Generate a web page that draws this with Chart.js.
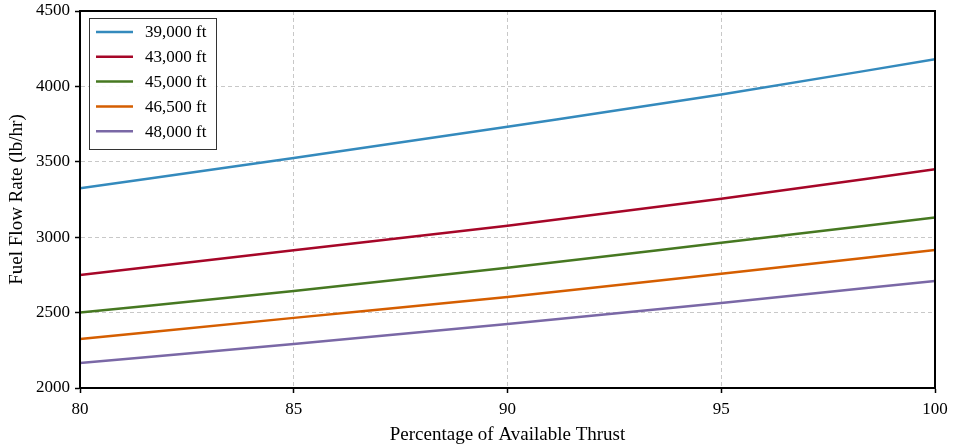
<!DOCTYPE html>
<html>
<head>
<meta charset="utf-8">
<script src="https://cdn.jsdelivr.net/npm/chart.js@4/dist/chart.umd.min.js"></script>
<style>
  html, body { margin: 0; padding: 0; background: #fff; }
  #wrap { width: 954px; height: 446px; }
</style>
</head>
<body>
<div id="wrap"><canvas id="grafica"></canvas></div>
<script>
// thrust percentage (x) and fuel flow (lb/hr) per altitude
let empuje = [80, 85, 90, 95, 100];
let alt39000 = [3325, 3525, 3733, 3946, 4180];
let alt43000 = [2750, 2914, 3076, 3255, 3450];
let alt45000 = [2500, 2644, 2797, 2963, 3130];
let alt46500 = [2325, 2465, 2604, 2757, 2915];
let alt48000 = [2165, 2292, 2425, 2564, 2710];
let etiquetas = ["39,000 ft", "43,000 ft", "45,000 ft", "46,500 ft", "48,000 ft"];
let colores = ["#348ABD", "#A60628", "#467821", "#D55E00", "#7A68A6"];

let series = [alt39000, alt43000, alt45000, alt46500, alt48000];
let fuente = "'Liberation Serif', 'DejaVu Serif', serif";

// black frame around the plot area
const marco = {
  id: "marco",
  afterDatasetsDraw(chart) {
    const a = chart.chartArea;
    const ctx = chart.ctx;
    ctx.save();
    ctx.strokeStyle = "#000";
    ctx.lineWidth = 2;
    ctx.strokeRect(a.left, a.top, a.right - a.left, a.bottom - a.top);
    ctx.restore();
  },
};

// legend box drawn inside the top-left corner
const leyenda = {
  id: "leyenda",
  afterDraw(chart) {
    const a = chart.chartArea;
    const ctx = chart.ctx;
    const x0 = a.left + 9, y0 = a.top + 7;
    const w = 127, fila = 24.8;
    const h = fila * chart.data.datasets.length + 7;
    ctx.save();
    ctx.fillStyle = "rgba(255,255,255,0.9)";
    ctx.fillRect(x0, y0, w, h);
    ctx.strokeStyle = "#333";
    ctx.lineWidth = 1;
    ctx.strokeRect(x0 + 0.5, y0 + 0.5, w, h);
    ctx.font = "17px " + fuente;
    ctx.textBaseline = "middle";
    chart.data.datasets.forEach((ds, i) => {
      const y = y0 + 14 + i * fila;
      ctx.strokeStyle = ds.borderColor;
      ctx.lineWidth = 2.5;
      ctx.beginPath();
      ctx.moveTo(x0 + 7, y);
      ctx.lineTo(x0 + 44, y);
      ctx.stroke();
      ctx.fillStyle = "#000";
      ctx.fillText(ds.label, x0 + 56, y + 1);
    });
    ctx.restore();
  },
};

let datasets = series.map((s, i) => ({
  label: etiquetas[i],
  data: empuje.map((x, j) => ({ x: x, y: s[j] })),
  borderColor: colores[i],
  backgroundColor: colores[i],
  borderWidth: 2.5,
  pointRadius: 0,
  cubicInterpolationMode: "monotone",
  fill: false,
}));

Chart.defaults.font.family = fuente;
Chart.defaults.color = "#000";

let rejilla = {
  color: "#c8c8c8",
  tickColor: "#000",
  tickLength: 5,
  tickBorderDash: [],
  tickWidth: 1.5,
};
let borde = { display: true, color: "#000", width: 2, dash: [4, 3] };

let chart = new Chart("grafica", {
  type: "line",
  data: { datasets: datasets },
  options: {
    responsive: true,
    maintainAspectRatio: false,
    animation: false,
    layout: { padding: { left: 0, right: 19, top: 11, bottom: 0 } },
    plugins: {
      legend: { display: false },
      tooltip: { enabled: false },
    },
    scales: {
      x: {
        type: "linear",
        min: 80,
        max: 100,
        ticks: { stepSize: 5, font: { size: 17 }, padding: 6, maxRotation: 0 },
        grid: rejilla,
        border: borde,
        title: {
          display: true,
          text: "Percentage of Available Thrust",
          font: { size: 19 },
          padding: { top: 0, bottom: 0 },
        },
        afterFit(scale) { scale.height = 58; },
      },
      y: {
        min: 2000,
        max: 4500,
        ticks: {
          stepSize: 500,
          font: { size: 17 },
          padding: 5,
          callback: (v) => String(v),
        },
        grid: rejilla,
        border: borde,
        title: {
          display: true,
          text: "Fuel Flow Rate (lb/hr)",
          font: { size: 19 },
          padding: { top: 6, bottom: 2 },
        },
        afterFit(scale) {
          scale.width = 80;
          scale.paddingTop = 0;
        },
      },
    },
  },
  plugins: [marco, leyenda],
});
</script>
</body>
</html>
